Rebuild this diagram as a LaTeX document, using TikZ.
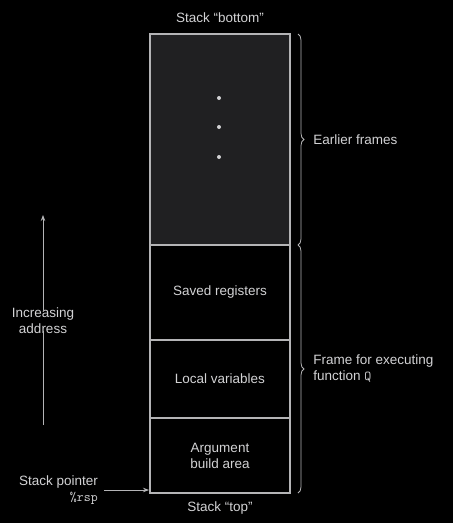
\documentclass[tikz,border=0pt]{standalone}
\usepackage{fontspec}
\setmainfont{Liberation Sans}
\usetikzlibrary{arrows.meta, positioning, calc, decorations.pathreplacing}
\definecolor{stkline}{HTML}{B4B4B6}
\definecolor{stktext}{HTML}{D2D2D4}
\definecolor{oldfill}{HTML}{202022}

\tikzset{
  block/.style={draw=stkline, line width=1.1pt, minimum width=140pt, inner sep=0pt,
    outer sep=0pt, text=stktext, align=center, font=\fontsize{13.5}{16}\selectfont,
    anchor=north},
  lbl/.style={text=stktext, font=\fontsize{13.5}{16}\selectfont, inner sep=1pt},
  bracket/.style={stkline, line width=0.8pt, decorate,
    decoration={brace, amplitude=6pt}},
}

\begin{document}
\begin{tikzpicture}[x=1pt, y=-1pt, >={Stealth[length=6pt, width=4.5pt]}]

% Background
\fill[black] (0,0) rectangle (453,523);

% === Stack blocks ===
\node[block, fill=oldfill, minimum height=211pt] (earlier) at (220,34) {};
\node[block, minimum height=95pt, below=0pt of earlier] (saved) {Saved registers};
\node[block, minimum height=78pt, below=0pt of saved] (local) {Local variables};
\node[block, minimum height=75pt, below=0pt of local] (argbuild) {Argument\\build area};

% dots in the earlier frames
\foreach \y in {98,127,157} {
  \fill[stktext] (219,\y) circle (2pt);
}

% Top / bottom labels
\node[lbl, above=10pt of earlier] (bottom) {Stack \textquotedblleft bottom\textquotedblright};
\node[lbl, below=8pt of argbuild] (top) {Stack \textquotedblleft top\textquotedblright};

% === Braces ===
\draw[bracket] ($(earlier.north east)+(8,0)$) -- ($(earlier.south east)+(8,0)$)
  node[midway, right=14pt, lbl, anchor=west] (earlylbl) {Earlier frames};
\draw[bracket] ($(saved.north east)+(8,0)$) -- ($(argbuild.south east)+(8,0)$)
  node[midway, right=14pt, lbl, anchor=west, align=left] (framelbl)
  {Frame for executing\\function \texttt{Q}};

% === Increasing address arrow ===
\node[lbl, align=center] (incr) at (43,321) {Increasing\\address};
\coordinate (incrlow) at (43,425);
\coordinate (incrhigh) at (43,215);
\draw[stkline, line width=0.8pt] (incrlow) -- ($(incr.south)+(0,-4)$);
\draw[stkline, line width=0.8pt, ->] ($(incr.north)+(0,4)$) -- (incrhigh);

% === Stack pointer ===
\node[lbl, align=right, anchor=east] (sp) at (99,490)
  {Stack pointer\\\texttt{\%rsp}};
\draw[stkline, line width=0.8pt, ->] ($(sp.east)+(5,0)$) -- ($(sp.east -| argbuild.west)+(-1,0)$);

\end{tikzpicture}
\end{document}
